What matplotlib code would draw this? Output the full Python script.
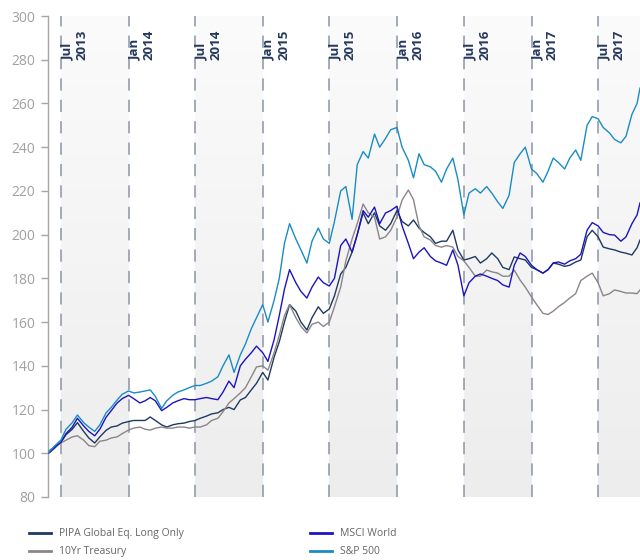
import matplotlib
matplotlib.use("Agg")
import matplotlib.pyplot as plt
import matplotlib.dates as mdates
import matplotlib.transforms as mtransforms
from matplotlib.colors import LinearSegmentedColormap
import numpy as np
import pandas as pd

# ---------------- data ----------------
dates = ["2013-05-27", "2013-06-01", "2013-06-15",
         "2013-07-01", "2013-07-15", "2013-08-01", "2013-08-15", "2013-09-01", "2013-09-15",
         "2013-10-01", "2013-10-15", "2013-11-01", "2013-11-15", "2013-12-01", "2013-12-15",
         "2014-01-01", "2014-01-15", "2014-02-01", "2014-02-15", "2014-03-01", "2014-03-15",
         "2014-04-01", "2014-04-15", "2014-05-01", "2014-05-15", "2014-06-01", "2014-06-15",
         "2014-07-01", "2014-07-15", "2014-08-01", "2014-08-15", "2014-09-01", "2014-09-15",
         "2014-10-01", "2014-10-15", "2014-11-01", "2014-11-15", "2014-12-01", "2014-12-15",
         "2015-01-01", "2015-01-15", "2015-02-01", "2015-02-15", "2015-03-01", "2015-03-15",
         "2015-04-01", "2015-04-15", "2015-05-01", "2015-05-15", "2015-06-01", "2015-06-15",
         "2015-07-01", "2015-07-15", "2015-08-01", "2015-08-15", "2015-09-01", "2015-09-15",
         "2015-10-01", "2015-10-15", "2015-11-01", "2015-11-15", "2015-12-01", "2015-12-15",
         "2016-01-01", "2016-01-15", "2016-02-01", "2016-02-15", "2016-03-01", "2016-03-15",
         "2016-04-01", "2016-04-15", "2016-05-01", "2016-05-15", "2016-06-01", "2016-06-15",
         "2016-07-01", "2016-07-15", "2016-08-01", "2016-08-15", "2016-09-01", "2016-09-15",
         "2016-10-01", "2016-10-15", "2016-11-01", "2016-11-15", "2016-12-01", "2016-12-15",
         "2017-01-01", "2017-01-15", "2017-02-01", "2017-02-15", "2017-03-01", "2017-03-15",
         "2017-04-01", "2017-04-15", "2017-05-01", "2017-05-15", "2017-06-01", "2017-06-15",
         "2017-07-01", "2017-07-15", "2017-08-01", "2017-08-15", "2017-09-01", "2017-09-15",
         "2017-10-01", "2017-10-15", "2017-10-23"]

sp500 = [100, 101, 103.5,
         106, 111, 114, 117.5, 114, 112,
         110, 113, 118.5, 121, 124.4, 127,
         128.5, 127.6, 128, 128.5, 129, 126,
         120.5, 124, 126.5, 128, 129, 130,
         131, 131, 132, 133, 135, 140,
         145, 137, 145, 150, 157, 162,
         168, 160, 170, 180, 196, 205,
         198, 193, 187, 197, 203, 198,
         196, 206, 220, 222, 207, 232,
         238, 235, 246, 240, 244, 248,
         249, 240, 234, 226, 237, 232,
         231, 229, 224, 230, 235, 225,
         209, 219, 221, 219, 222, 219,
         215, 212, 218, 233, 237, 240,
         230, 228, 224, 229, 235, 233,
         230, 235, 238.7, 234, 250, 254,
         253, 249, 246.5, 243.5, 242, 245,
         255, 260, 267]

msci = [100, 100.5, 103,
        105, 109, 112, 116, 112.5, 110,
        108, 111, 116.5, 119.5, 123, 125,
        126.5, 125, 123, 124, 125.5, 124,
        119.5, 121, 123, 124, 125, 124.5,
        124.5, 125, 125.5, 125, 124.5, 128,
        133, 130, 140, 143, 146, 149,
        146, 142, 152, 163, 175, 184,
        178, 174, 171, 176, 180.6, 178,
        176.5, 180, 195, 198, 192, 200,
        211, 208, 212.6, 205, 209.9, 211,
        213, 204, 196, 189, 192, 194,
        190, 188, 187, 186, 193, 186,
        172, 178, 181, 182, 181, 180,
        179, 177, 176, 186, 191.6, 190,
        186, 184, 182.4, 184, 187, 187.5,
        186.5, 188, 189, 191, 202, 205.5,
        204, 201, 200, 199.8, 197, 199,
        205, 209, 214.5]

pipa = [100, 100.5, 102.5,
        105, 108.5, 111, 114, 110, 107,
        104.7, 107.5, 110.5, 112, 112.5, 113.8,
        114.5, 115, 115, 115, 116.6, 115,
        113, 112, 113, 113.5, 113.8, 114.5,
        115, 116, 117, 118, 118.5, 120,
        121, 120, 124.4, 125.5, 129, 132,
        137, 133.5, 144, 151, 160, 168,
        165, 160, 156.4, 162, 167, 164,
        166, 172, 182, 185, 192, 200,
        210, 205, 210, 204, 202, 205,
        211, 206, 204, 206.7, 203, 201,
        199, 196, 197, 197, 202, 193,
        188.4, 189, 190, 187, 189, 191.6,
        189, 185, 184, 189.8, 189, 188.4,
        185, 184, 182.4, 184, 187, 186.5,
        185.5, 186, 187.5, 188.4, 199, 202,
        199, 194.3, 193.5, 193, 192, 191.5,
        190.7, 194, 197.5]

treasury = [101, 101.5, 103,
            104.7, 106, 107.5, 108, 106, 103.5,
            103, 105.5, 106, 107, 107.5, 109,
            110.6, 111.5, 112, 111, 110.6, 111.5,
            112, 111.5, 111.5, 112, 112, 111.5,
            112, 112, 113, 115, 116, 119,
            123, 125, 127.6, 130, 135, 139.5,
            140, 138, 146, 154, 163, 168,
            162, 158, 155, 159, 160, 158,
            160, 167, 176, 188, 198, 205,
            214, 210, 208, 198, 199, 202,
            208, 215.8, 220.4, 216, 204, 199,
            197.5, 195, 194.3, 195, 194.3, 190,
            188, 185, 181, 181, 183.8, 183,
            182.4, 181, 181, 183.8, 179.2, 176,
            171.5, 168, 164, 163.5, 165, 167,
            169, 171, 173, 179, 181, 182.4,
            178, 172, 173, 174.7, 174, 173.3,
            173.3, 173, 174.7]

series_names = ["PIPA Global Eq. Long Only", "10Yr Treasury", "MSCI World", "S&P 500"]
series_colors = ["#1f3a5f", "#8c8489", "#1c14c0", "#1a8cc4"]

marker_dates = ["2013-07-01", "2014-01-01", "2014-07-01", "2015-01-01", "2015-07-01",
                "2016-01-01", "2016-07-01", "2017-01-01", "2017-07-01"]
marker_labels = ["Jul\n2013", "Jan\n2014", "Jul\n2014", "Jan\n2015", "Jul\n2015",
                 "Jan\n2016", "Jul\n2016", "Jan\n2017", "Jul\n2017"]

y_ticks = [80, 100, 120, 140, 160, 180, 200, 220, 240, 260, 280, 300]

# ---------------- plot ----------------
plt.rcParams['font.family'] = ['Open Sans', 'DejaVu Sans']

fig = plt.figure(figsize=(6.4, 5.6), dpi=100)
ax = fig.add_axes([48/640, 1 - 497/560, 1 - 48/640, 481/560])

d = pd.to_datetime(dates)
x_start = pd.Timestamp("2013-05-27")
x_end = pd.Timestamp("2017-10-23")

# shaded gradient bands
cmap = LinearSegmentedColormap.from_list("band", ["#ededed", "#fbfbfb"])
grad = np.linspace(0, 1, 256).reshape(-1, 1)
md = pd.to_datetime(marker_dates)
band_edges = [(md[0], md[1]), (md[2], md[3]), (md[4], md[5]), (md[6], md[7]), (md[8], x_end)]
for a, b in band_edges:
    ax.imshow(grad, extent=[mdates.date2num(a), mdates.date2num(b), 80, 300],
              aspect='auto', cmap=cmap, origin='lower', zorder=0, interpolation='bilinear')
ax.set_xlim(x_start, x_end)
ax.set_ylim(80, 300)

# dashed vertical lines
for m in md:
    ax.axvline(m, color="#8a94a8", lw=1.1, dashes=(8, 6), zorder=1)

# labels for markers
trans = mtransforms.blended_transform_factory(ax.transData, ax.transAxes)
for m, lab in zip(md, marker_labels):
    ax.text(m, (497 - 60) / 481, lab, transform=trans, rotation=90,
            ha='left', va='bottom', multialignment='left',
            fontsize=9.5, fontweight='bold', color="#26395c", linespacing=1.15,
            zorder=5)

# series
all_vals = [pipa, treasury, msci, sp500]
for vals, name, col in zip(all_vals, series_names, series_colors):
    ax.plot(d, vals, color=col, lw=1.0, label=name, zorder=3)

# axes styling
for s in ["top", "right", "bottom"]:
    ax.spines[s].set_visible(False)
ax.spines["left"].set_color("#a6a6a6")
ax.spines["left"].set_linewidth(1.0)
ax.set_yticks(y_ticks)
ax.tick_params(axis='y', colors="#a6a6a6", labelcolor="#a0a0a0", length=5, width=1,
               labelsize=10, pad=4)
ax.set_xticks([])

handles, labels = ax.get_legend_handles_labels()
leg = fig.legend(handles, labels, loc='upper left', bbox_to_anchor=(20/640, 1 - 519/560),
                 ncol=2, frameon=False, fontsize=7.5, handlelength=2.1, handletextpad=0.77,
                 columnspacing=12.1, labelspacing=0.65)
for t in leg.get_texts():
    t.set_color("#666666")
for l in leg.get_lines():
    l.set_linewidth(2.0)

fig.savefig("out.png", dpi=100)
